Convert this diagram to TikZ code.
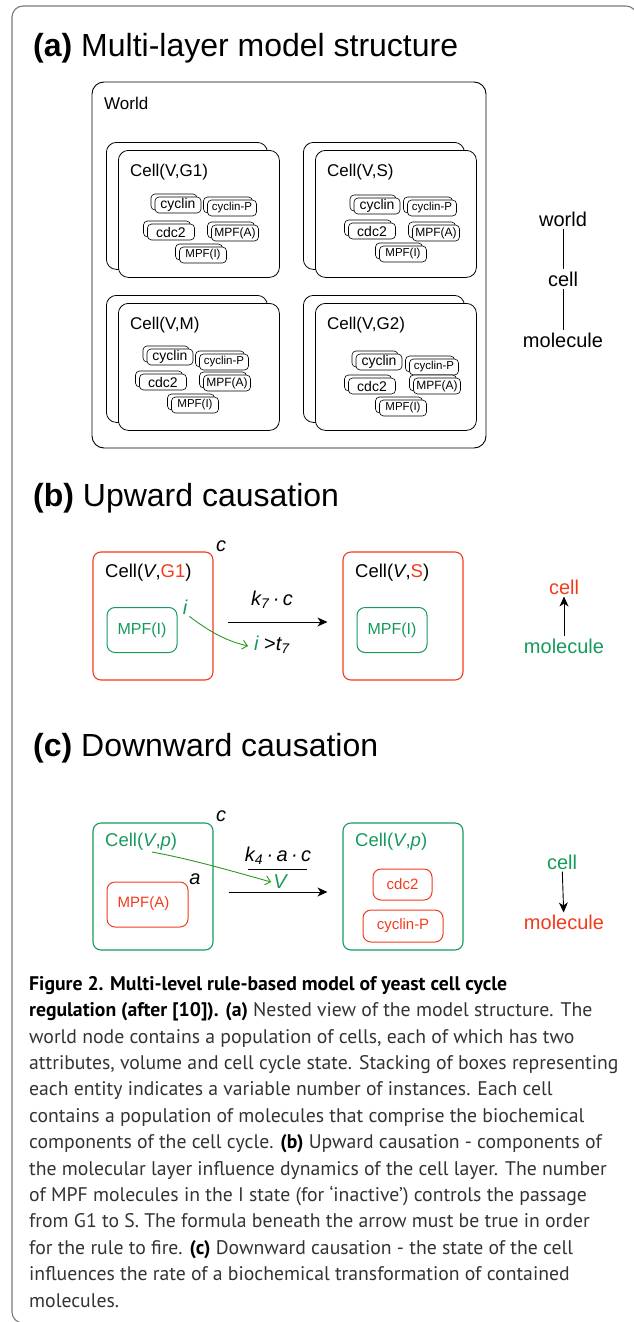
\documentclass[tikz,border=0pt]{standalone}
\usepackage{fontspec}
\setmainfont{Liberation Sans}
\newfontfamily\capfont{PT Sans}
\usetikzlibrary{arrows.meta}

\definecolor{cred}{HTML}{F23A1D}
\definecolor{cgreen}{HTML}{169A5C}
\definecolor{agreen}{HTML}{2A9A1E}
\definecolor{framegray}{HTML}{7A7A7A}
\definecolor{captext}{HTML}{333333}

\newcommand\fs[1]{\fontsize{#1}{#1}\selectfont}

\tikzset{
  frameline/.style={draw=framegray, line width=1.1pt, rounded corners=11pt},
  worldbox/.style={draw, line width=0.9pt, rounded corners=12pt},
  cellbox/.style={draw, fill=white, line width=0.8pt, rounded corners=10pt,
    minimum width=161pt, minimum height=127pt, inner sep=0pt, anchor=north west},
  molbox/.style={draw, fill=white, line width=0.6pt, rounded corners=4pt,
    minimum height=16pt, inner sep=0pt},
  rulebox/.style={draw, line width=1.1pt, rounded corners=8pt, inner sep=0pt},
  inbox/.style={draw, line width=1.0pt, rounded corners=8pt, inner sep=0pt},
  title/.style={anchor=base west, font=\fs{32}, inner sep=0pt},
  lbl/.style={font=\fs{20}, inner sep=2pt},
  arr/.style={-{Stealth[length=10pt, width=9pt, inset=3pt]}, line width=0.9pt},
  garr/.style={-{Straight Barb[length=5pt, width=9pt]}, draw=agreen, line width=0.9pt},
}

% a molecule drawn as two stacked boxes: name, x, y, width, font size, text
\newcommand\molecule[6]{%
  \node[molbox, minimum width=#4pt] (#1b) at ({#2-4},{#3-3}) {};
  \node[molbox, minimum width=#4pt, font=\fs{#5}] (#1) at (#2,#3) {#6};
}
% a cell drawn as two stacked boxes with its label: name, x, y (top left), label
\newcommand\cellstack[4]{%
  \node[cellbox] (#1b) at ({#2-12},{#3-8}) {};
  \node[cellbox] (#1) at (#2,#3) {};
  \node[font=\fs{17}, anchor=west, inner sep=0pt] (#1l) at ({#2+12},{#3+22}) {#4};
}
% the five molecules of one cell: prefix, then the centres of the front boxes
\newcommand\molset[6]{%
  \molecule{#1cy}#2{46}{14}{cyclin}
  \molecule{#1cp}#3{49}{11.5}{cyclin-P}
  \molecule{#1cd}#4{47}{14}{cdc2}
  \molecule{#1ma}#5{47}{12}{MPF(A)}
  \molecule{#1mi}#6{47}{11.5}{MPF(I)}
}

\begin{document}
\begin{tikzpicture}[x=1pt, y=-1pt]
\useasboundingbox (0,0) rectangle (633,1322);

% outer frame (runs past the right and bottom edges of the page)
\draw[frameline] (40,1323) -- (12,1323) -- (12,6) -- (637,6) -- (637,60);

% ---------------- (a) ----------------
\node[title] (ta) at (33,57) {\textbf{(a)} Multi-layer model structure};

\draw[worldbox] (92,82) rectangle (486,448);
\node[font=\fs{17}, anchor=west, inner sep=0pt] (world) at (104,103) {World};

\cellstack{g1}{118}{150}{Cell(V,G1)}
\molset{g1}{{178}{205}}{{232}{208}}{{171}{232}}{{235}{233}}{{203}{255}}

\cellstack{s}{315}{150}{Cell(V,S)}
\molset{s}{{377}{206}}{{432}{208}}{{372}{231}}{{436}{233}}{{403}{254}}

\cellstack{m}{118}{303}{Cell(V,M)}
\molset{m}{{170}{357}}{{224}{362}}{{163}{382}}{{227}{383}}{{195}{405}}

\cellstack{g2}{315}{303}{Cell(V,G2)}
\molset{g2}{{379}{362}}{{434}{367}}{{372}{386}}{{437}{386}}{{403}{408}}

% layer hierarchy
\node[lbl] (hw) at (563,219) {world};
\node[lbl] (hc) at (563,279) {cell};
\node[lbl] (hm) at (563,340) {molecule};
\draw[line width=0.9pt] (hw) -- (hc);
\draw[line width=0.9pt] (hc) -- (hm);

% ---------------- (b) ----------------
\node[title] (tb) at (33,506) {\textbf{(b)} Upward causation};

\node[rulebox, draw=cred, minimum width=120pt, minimum height=128pt] (bl) at (153,616) {};
\node[font=\fs{18.5}, anchor=west, inner sep=0pt] (bll) at (105,573)
  {Cell(\textit{V},{\color{cred}G1})};
\node[inbox, draw=cgreen, minimum width=70pt, minimum height=45pt,
  text=cgreen, font=\fs{16}] (bmi) at (142,630) {\raisebox{3pt}{MPF(I)}};
\node[lbl, font=\fs{20}\itshape] (bc) at (221,546) {c};
\node[lbl, font=\fs{20}\itshape, text=cgreen] (bi) at (185,607) {i};

\node[rulebox, draw=cred, minimum width=120pt, minimum height=128pt] (br) at (403,616) {};
\node[font=\fs{18.5}, anchor=west, inner sep=0pt] (brl) at (355,573)
  {Cell(\textit{V},{\color{cred}S})};
\node[inbox, draw=cgreen, minimum width=70pt, minimum height=45pt,
  text=cgreen, font=\fs{16}] (brmi) at (392,630) {\raisebox{3pt}{MPF(I)}};

\node[lbl, font=\fs{20}\itshape] (brate) at (272,600) {k\textsubscript{7}\,·\,c};
\node[lbl, font=\fs{20}\itshape] (bcond) at (272,645)
  {{\color{cgreen}i} {\upshape >}t\textsubscript{7}};
\draw[arr, shorten <=14pt, shorten >=15pt] ([yshift=-6pt]bl.east) -- ([yshift=-6pt]br.west);
\draw[garr] (bi.south east) .. controls (205,628) and (222,640) .. ([xshift=-4pt,yshift=-1pt]bcond.west);

\node[lbl, text=cred] (bhc) at (564,587) {cell};
\node[lbl, text=cgreen] (bhm) at (564,646) {molecule};
\draw[arr] (bhm) -- (bhc);

% ---------------- (c) ----------------
\node[title] (tc) at (33,756) {\textbf{(c)} Downward causation};

\node[rulebox, draw=cgreen, minimum width=120pt, minimum height=127pt] (cl) at (153,886.5) {};
\node[font=\fs{18.5}, anchor=west, inner sep=0pt, text=cgreen] (cll) at (105,842)
  {Cell(\textit{V},\textit{p})};
\node[inbox, draw=cred, minimum width=81pt, minimum height=45pt,
  text=cred, font=\fs{15}] (cma) at (147.5,904.5) {\raisebox{5pt}{\hspace*{-8pt}MPF(A)}};
\node[lbl, font=\fs{20}\itshape] (cc) at (221,816) {c};
\node[lbl, font=\fs{20}\itshape] (ca) at (195,879) {a};
\coordinate (cv) at (152,852);

\node[rulebox, draw=cgreen, minimum width=120pt, minimum height=127pt] (cr) at (403,886.5) {};
\node[font=\fs{18.5}, anchor=west, inner sep=0pt, text=cgreen] (crl) at (355,842)
  {Cell(\textit{V},\textit{p})};
\node[inbox, draw=cred, minimum width=59pt, minimum height=31pt,
  text=cred, font=\fs{15}] (ccd) at (402.5,884.5) {cdc2};
\node[inbox, draw=cred, minimum width=80pt, minimum height=32pt,
  text=cred, font=\fs{15}] (ccp) at (403,926) {cyclin-P};

\node[lbl, font=\fs{20}\itshape] (cnum) at (278,856) {k\textsubscript{4}\,·\,a\,·\,c};
\node[lbl, font=\fs{20}\itshape, text=cgreen] (cden) at (280,882) {V};
\draw[line width=0.9pt] (248,869) -- (307,869);
\draw[arr, shorten <=15pt, shorten >=15pt] ([yshift=-5.5pt]cl.east) -- ([yshift=-5.5pt]cr.west);
\draw[garr] (cv) .. controls (195,860) and (235,872) .. ([xshift=0pt]cden.west);

\node[lbl, text=cgreen] (chc) at (562,862) {cell};
\node[lbl, text=cred] (chm) at (564,922) {molecule};
\draw[arr] (chc) -- (chm);

% ---------------- caption ----------------
\node[anchor=north west, inner sep=0pt, align=left, text=captext,
  font=\capfont\fontsize{19.7}{26.4}\selectfont] (cap) at (29,976) {%
\textbf{\color{black}Figure 2. Multi-level rule-based model of yeast cell cycle}\\
\textbf{\color{black}regulation (after [10]). (a)} Nested view of the model structure. The\\
world node contains a population of cells, each of which has two\\
attributes, volume and cell cycle state. Stacking of boxes representing\\
each entity indicates a variable number of instances. Each cell\\
contains a population of molecules that comprise the biochemical\\
components of the cell cycle. \textbf{\color{black}(b)} Upward causation - components of\\
the molecular layer influence dynamics of the cell layer. The number\\
of MPF molecules in the I state (for ‘inactive’) controls the passage\\
from G1 to S. The formula beneath the arrow must be true in order\\
for the rule to fire. \textbf{\color{black}(c)} Downward causation - the state of the cell\\
influences the rate of a biochemical transformation of contained\\
molecules.};
\end{tikzpicture}
\end{document}
